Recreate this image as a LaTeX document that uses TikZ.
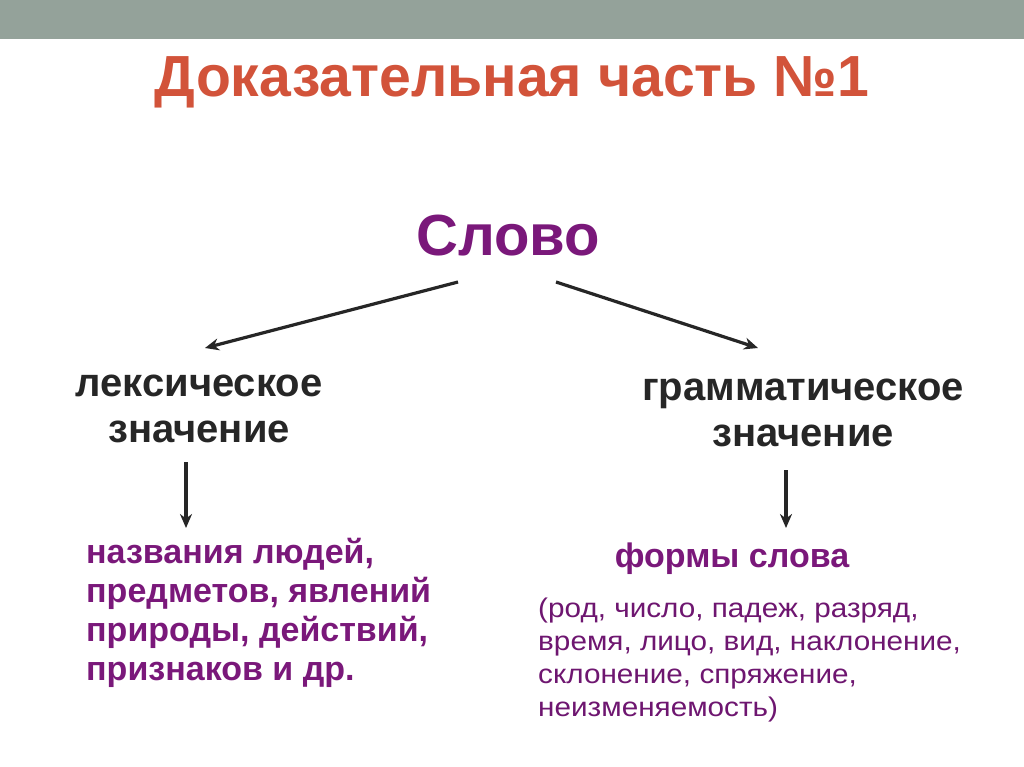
\documentclass[tikz,border=0pt]{standalone}
\usepackage{fontspec}
\setmainfont{Liberation Sans}
\usetikzlibrary{arrows.meta}
\definecolor{barcol}{HTML}{94A29A}
\definecolor{titlecol}{HTML}{D2533A}
\definecolor{purp}{HTML}{7A187A}
\definecolor{purp2}{HTML}{6E1670}
\definecolor{ink}{HTML}{262626}
\tikzset{
  arr/.style={draw=ink, line width=3.2pt, -{Stealth[length=14pt,width=12pt]}},
  blk/.style={text=ink, font=\bfseries\fontsize{40}{46}\selectfont, inner sep=0pt, align=center},
  pbold/.style={text=purp, font=\bfseries\fontsize{34}{39}\selectfont, inner sep=0pt, align=left},
  preg/.style={text=purp2, font=\fontsize{27}{33}\selectfont, inner sep=0pt, align=left, xscale=1.1},
}
\begin{document}
\begin{tikzpicture}[x=1pt,y=-1pt]
\useasboundingbox (0,0) rectangle (1024,767);
\fill[white] (0,0) rectangle (1024,767);
\fill[barcol] (0,0) rectangle (1024,39);
\node[anchor=base, inner sep=0pt, text=titlecol, font=\bfseries\fontsize{58}{58}\selectfont, xscale=0.985] (title) at (512,97) {Доказательная часть №1};
\node[anchor=base, inner sep=0pt, text=purp, font=\bfseries\fontsize{58}{58}\selectfont] (slovo) at (508,255) {Слово};
\node[blk, anchor=base] (lex) at (199,442) {лексическое\\значение};
\node[blk, anchor=base] (gram) at (803,446) {грамматическое\\значение};
\node[pbold, anchor=base west] (names) at (86,680) {названия людей,\\предметов, явлений\\природы, действий,\\признаков и др.};
\node[pbold, anchor=base] (forms) at (732,567) {формы слова};
\node[preg, anchor=base west] (cats) at (538,716) {(род, число, падеж, разряд,\\время, лицо, вид, наклонение,\\склонение, спряжение,\\неизменяемость)};
\coordinate (s1) at (458,282);
\coordinate (s2) at (556,282);
\coordinate (e1) at (205,348);
\coordinate (e2) at (758,348);
\coordinate (v1a) at (186,462);
\coordinate (v1b) at (186,528);
\coordinate (v2a) at (786,470);
\coordinate (v2b) at (786,528);
\draw[arr] (s1) -- (e1);
\draw[arr] (s2) -- (e2);
\draw[arr] (v1a) -- (v1b);
\draw[arr] (v2a) -- (v2b);
\end{tikzpicture}
\end{document}
